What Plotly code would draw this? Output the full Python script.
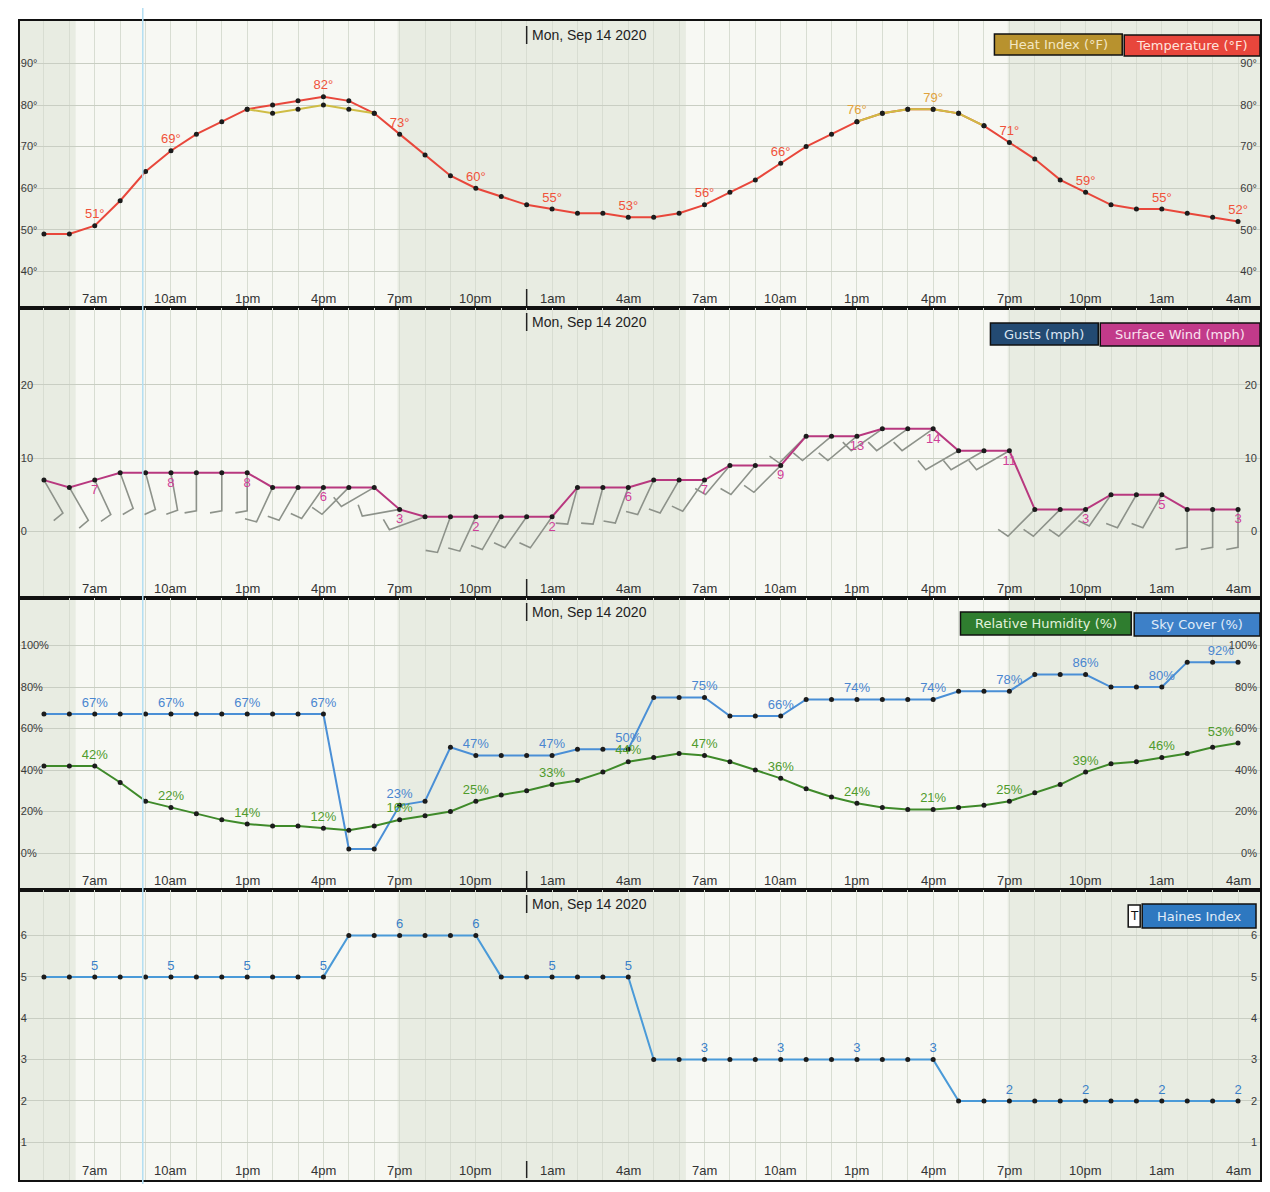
import math
import pandas as pd
import plotly.graph_objects as go

# ---------------- data ----------------
times = pd.date_range("2020-09-13 05:00", periods=48, freq="h")
hour_labels = ["7am", "10am", "1pm", "4pm", "7pm", "10pm", "1am", "4am",
               "7am", "10am", "1pm", "4pm", "7pm", "10pm", "1am", "4am"]
label_idx = list(range(2, 48, 3))
date_label = "Mon, Sep 14 2020"
midnight = pd.Timestamp("2020-09-14 00:00")
sunrise = ["2020-09-13 06:15", "2020-09-14 06:16"]
sunset = ["2020-09-13 18:55", "2020-09-14 18:56"]

temperature = [49, 49, 51, 57, 64, 69, 73, 76, 79, 80, 81, 82, 81, 78, 73, 68, 63, 60, 58, 56, 55, 54, 54, 53,
               53, 54, 56, 59, 62, 66, 70, 73, 76, 78, 79, 79, 78, 75, 71, 67, 62, 59, 56, 55, 55, 54, 53, 52]
heat_index = [None] * 8 + [79, 78, 79, 80, 79, 78] + [None] * 18 + [76, 78, 79, 79, 78, 75] + [None] * 10
heat_label_idx = [8, 32, 35]
temp_label_idx = [i for i in label_idx if i not in heat_label_idx]

wind = [7, 6, 7, 8, 8, 8, 8, 8, 8, 6, 6, 6, 6, 6, 3, 2, 2, 2, 2, 2, 2, 6, 6, 6,
        7, 7, 7, 9, 9, 9, 13, 13, 13, 14, 14, 14, 11, 11, 11, 3, 3, 3, 5, 5, 5, 3, 3, 3]
wind_dir = [150, 150, 155, 160, 165, 170, 180, 180, 180, 205, 210, 215, 225, 240, 260, 250, 200, 205, 210, 215, 215, 195, 195, 200,
            205, 210, 215, 220, 220, 225, 225, 230, 230, 235, 235, 235, 240, 240, 240, 225, 225, 225, 215, 210, 210, 180, 180, 180]

sky_cover = [67] * 12 + [2, 2, 23, 25, 51, 47, 47, 47, 47, 50, 50, 50] + \
            [75] * 3 + [66] * 3 + [74] * 3 + [74] * 3 + [78] * 3 + [86] * 3 + [80] * 3 + [92] * 3
humidity = [42, 42, 42, 34, 25, 22, 19, 16, 14, 13, 13, 12, 11, 13, 16, 18, 20, 25, 28, 30, 33, 35, 39, 44,
            46, 48, 47, 44, 40, 36, 31, 27, 24, 22, 21, 21, 22, 23, 25, 29, 33, 39, 43, 44, 46, 48, 51, 53]
haines = [5] * 12 + [6] * 6 + [5] * 6 + [3] * 12 + [2] * 12

# ---------------- geometry / style ----------------
OFF = 8                      # page body margin of the html page
W, H = 1270 - 2 * OFF, 1192 - 2 * OFF


def px_x(px):
    return (px - OFF) / W


def px_y(py):
    return 1 - (py - OFF) / H


X0_PX, X1_PX = 20, 1262
FIRST_PX, LAST_PX = 44, 1240
px_per_hr = (LAST_PX - FIRST_PX) / 47.0
x_lo = times[0] - pd.Timedelta(hours=(FIRST_PX - X0_PX) / px_per_hr)
x_hi = times[-1] + pd.Timedelta(hours=(X1_PX - LAST_PX) / px_per_hr)
panels = [(21, 308), (308, 598), (598, 890), (890, 1180)]
y_ranges = [[31.2, 100.2], [-9.1, 30.5], [-17.8, 122.9], [0.09, 7.1]]
y_ticks = [[40, 50, 60, 70, 80, 90], [0, 10, 20], [0, 20, 40, 60, 80, 100], [1, 2, 3, 4, 5, 6]]
y_suffix = ["°", "", "%", ""]

NARROW = "Liberation Sans Narrow, Liberation Sans, Arial, sans-serif"
DAY = "#f7f8f3"
NIGHT = "#e8ece2"
VGRID = "#d8ddd2"
HGRID = "#c9cec3"
DOT = "#1c1c1c"

ids = ["", "2", "3", "4"]
rids = ["5", "6", "7", "8"]

fig = go.Figure()


def add_series(k, y, color, label_set, fmt, text_color, textpos, width=2):
    text = [fmt.format(v) if (i in label_set and v is not None) else "" for i, v in enumerate(y)]
    pos = [textpos] * len(y)
    if textpos == "top center" and k == 2:
        pos[-1] = "top left"
    fig.add_trace(go.Scatter(
        x=times, y=y, xaxis="x" + ids[k], yaxis="y" + ids[k],
        mode="lines+markers+text",
        line=dict(color=color, width=width),
        marker=dict(color=DOT, size=5),
        text=text, textposition=pos,
        textfont=dict(color=text_color, size=13, family=NARROW),
        cliponaxis=False, showlegend=False, hoverinfo="skip", connectgaps=False))


# --- wind barbs (panel 2), derived from direction & axis scale ---
px_per_mph = (panels[1][1] - panels[1][0]) / (y_ranges[1][1] - y_ranges[1][0])
SHAFT, FEATHER = 38.0, 12.0
bx, by = [], []
for t, v, d in zip(times, wind, wind_dir):
    r = math.radians(d)
    sx, sy = math.sin(r), math.cos(r)  # toward where the wind comes from (screen up = +)
    ex, ey = SHAFT * sx, SHAFT * sy
    fa = math.radians(80)
    fx = sx * math.cos(-fa) - sy * math.sin(-fa)
    fy = sx * math.sin(-fa) + sy * math.cos(-fa)
    tx, ty = ex + FEATHER * fx, ey + FEATHER * fy
    for px_, py_ in [(0, 0), (ex, ey), (tx, ty)]:
        bx.append((t + pd.Timedelta(hours=px_ / px_per_hr)).to_pydatetime())
        by.append(v + py_ / px_per_mph)
    bx.append(None)
    by.append(None)
fig.add_trace(go.Scatter(x=bx, y=by, xaxis="x2", yaxis="y2", mode="lines",
                         line=dict(color="#8d928a", width=1.6), showlegend=False,
                         hoverinfo="skip", cliponaxis=False))

# --- series ---
add_series(0, temperature, "#e8473b", set(temp_label_idx), "{}°", "#f0523a", "top center")
add_series(0, heat_index, "#cfbd45", set(heat_label_idx), "{}°", "#e0a23c", "top center")
add_series(1, wind, "#b8387f", set(label_idx), "{}", "#cf3f98", "bottom center")
add_series(2, sky_cover, "#4a8fd6", set(label_idx), "{}%", "#4a86d0", "top center")
add_series(2, humidity, "#3f8a2a", set(label_idx), "{}%", "#4f9b2c", "top center")
add_series(3, haines, "#4a9ad8", set(label_idx), "{}", "#3a80c8", "top center")

# invisible traces so right-side axes render
for k, series in enumerate([temperature, wind, humidity, haines]):
    fig.add_trace(go.Scatter(x=times, y=series, xaxis="x" + ids[k], yaxis="y" + rids[k],
                             mode="markers", marker=dict(opacity=0), showlegend=False,
                             hoverinfo="skip"))

# ---------------- layout ----------------
layout = dict(width=W, height=H, margin=dict(l=0, r=0, t=0, b=0),
              paper_bgcolor="white", plot_bgcolor=DAY, showlegend=False)
shapes, annotations = [], []
xdom = [px_x(X0_PX), px_x(X1_PX)]
for k, (top, bot) in enumerate(panels):
    xid, yid, rid = ids[k], ids[k], rids[k]
    dom = [px_y(bot), px_y(top)]
    layout["xaxis" + xid] = dict(
        domain=xdom, anchor="y" + yid, type="date", range=[x_lo, x_hi],
        tickvals=list(times), showticklabels=False, ticks="",
        showgrid=True, gridcolor=VGRID, gridwidth=1, zeroline=False,
        showline=True, mirror=True, linecolor="#111111", linewidth=2,
        matches=None if k == 0 else "x")
    common_y = dict(range=y_ranges[k], tickvals=y_ticks[k],
                    ticktext=[f"{v}{y_suffix[k]}" for v in y_ticks[k]],
                    ticklabelposition="inside", ticks="",
                    tickfont=dict(size=11, color="#3a3a3a", family=NARROW), zeroline=False)
    layout["yaxis" + yid] = dict(domain=dom, anchor="x" + xid, showgrid=True, gridcolor=HGRID,
                                 gridwidth=1.3, showline=True, mirror=True,
                                 linecolor="#111111", linewidth=2, **common_y)
    layout["yaxis" + rid] = dict(overlaying="y" + yid, side="right", anchor="x" + xid,
                                 showgrid=False, showline=False, **common_y)
    # hour labels along the bottom of each panel
    for j, i in enumerate(label_idx):
        annotations.append(dict(text=hour_labels[j], xref="x" + xid, yref="paper", x=times[i],
                                y=px_y(bot - 10), xanchor="center", yanchor="middle", showarrow=False,
                                font=dict(size=13, color="#333333", family=NARROW)))
    # night shading
    nights = [(x_lo, pd.Timestamp(sunrise[0])), (pd.Timestamp(sunset[0]), pd.Timestamp(sunrise[1])),
              (pd.Timestamp(sunset[1]), x_hi)]
    for a, b in nights:
        shapes.append(dict(type="rect", xref="x" + xid, yref="y" + yid + " domain",
                           x0=a, x1=b, y0=0, y1=1, fillcolor=NIGHT, line=dict(width=0), layer="below"))
    # midnight markers
    shapes.append(dict(type="line", xref="x" + xid, yref="paper", x0=midnight, x1=midnight,
                       y0=px_y(top + 5), y1=px_y(top + 23), line=dict(color="#222", width=1.5)))
    shapes.append(dict(type="line", xref="x" + xid, yref="paper", x0=midnight, x1=midnight,
                       y0=px_y(bot - 19), y1=px_y(bot - 2), line=dict(color="#222", width=1.5)))
    annotations.append(dict(text=date_label, xref="x" + xid, yref="paper", x=midnight,
                            y=px_y(top + 14), xanchor="left", yanchor="middle", xshift=3,
                            showarrow=False, font=dict(size=14, color="#222", family=NARROW)))

# legend boxes (header keys)
legend_boxes = [
    ("Heat Index (°F)", 996, 1124, 34, 55, "#b8922e", "#f3e7c4"),
    ("Temperature (°F)", 1126, 1262, 35, 56, "#e8463c", "#ffe4dc"),
    ("Gusts (mph)", 992, 1100, 323, 345, "#234a72", "#dbe6f2"),
    ("Surface Wind (mph)", 1102, 1262, 323, 346, "#c23a8a", "#fbe2f0"),
    ("Relative Humidity (%)", 962, 1133, 612, 635, "#2f7d2f", "#e2f2dc"),
    ("Sky Cover (%)", 1136, 1262, 613, 636, "#3d80c8", "#e0ecf8"),
    ("T", 1130, 1142, 905, 927, "#ffffff", "#111111"),
    ("Haines Index", 1144, 1258, 904, 928, "#2e78c0", "#e0ecf8"),
]
for txt, x0, x1, y0, y1, bg, fg in legend_boxes:
    shapes.append(dict(type="rect", xref="paper", yref="paper", x0=px_x(x0), x1=px_x(x1),
                       y0=px_y(y1), y1=px_y(y0), fillcolor=bg, line=dict(color="#111", width=1.5)))
    annotations.append(dict(text=txt, xref="paper", yref="paper", x=px_x((x0 + x1) / 2),
                            y=px_y((y0 + y1) / 2), showarrow=False, xanchor="center", yanchor="middle",
                            font=dict(size=13 if len(txt) > 1 else 12, color=fg, family="DejaVu Sans")))

# faint light-blue vertical streak visible in the photograph
shapes.append(dict(type="line", xref="paper", yref="paper", x0=px_x(143), x1=px_x(143), y0=0, y1=1,
                   line=dict(color="#b3def2", width=1.5)))

layout["shapes"] = shapes
layout["annotations"] = annotations
fig.update_layout(**layout)
fig.write_html("out.html")
